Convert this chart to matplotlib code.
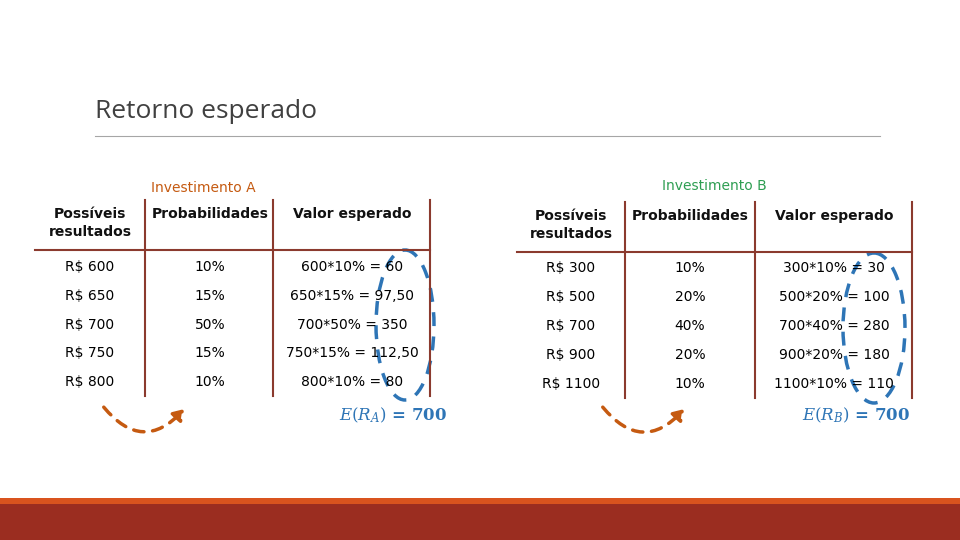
import matplotlib.pyplot as plt
from matplotlib.patches import Ellipse, FancyArrowPatch, Rectangle

outcomes_a = [600, 650, 700, 750, 800]
probs_a = [10, 15, 50, 15, 10]
outcomes_b = [300, 500, 700, 900, 1100]
probs_b = [10, 20, 40, 20, 10]
headers = ["Possíveis\nresultados", "Probabilidades", "Valor esperado"]

LINE = "#8b3a2e"
BLUE = "#2e75b6"
ORANGE = "#c55a11"

plt.rcParams["mathtext.fontset"] = "dejavuserif"


def fmt(v):
    s = f"{v:.2f}".replace(".", ",")
    return s[:-3] if s.endswith(",00") else s


fig = plt.figure(figsize=(9.6, 5.4), dpi=100)
ax = fig.add_axes([0, 0, 1, 1])
ax.set_xlim(0, 960)
ax.set_ylim(540, 0)
ax.axis("off")

ax.text(95, 112, "Retorno esperado", fontsize=19, color="#404040",
        family="Open Sans", va="center")
ax.plot([95, 880], [136, 136], color="#a6a6a6", lw=0.8)

ax.add_patch(Rectangle((0, 498), 960, 6, color="#d9531e", lw=0))
ax.add_patch(Rectangle((0, 504), 960, 36, color="#9b2d20", lw=0))


def table(x0, xs, cols, y_head, y_line, y_rows, title, tcolor, tx, ty,
          outcomes, probs, ell, arrow, label, lx):
    ax.text(tx, ty, title, color=tcolor, fontsize=10, ha="center", va="center")
    ax.plot([x0, xs[-1]], [y_line, y_line], color=LINE, lw=1.5)
    for x in xs:
        ax.plot([x, x], [y_line - 50, y_rows[-1] + 14], color=LINE, lw=1.5)
    for cx, h in zip(cols, headers):
        ax.text(cx, y_head, h, fontsize=10, weight="bold", ha="center",
                va="top", color="#111111", linespacing=1.4)
    for y, o, p in zip(y_rows, outcomes, probs):
        ax.text(cols[0], y, f"R$ {o}", fontsize=10, ha="center", va="center")
        ax.text(cols[1], y, f"{p}%", fontsize=10, ha="center", va="center")
        ax.text(cols[2], y, f"{o}*{p}% = {fmt(o * p / 100)}", fontsize=10,
                ha="center", va="center")
    ax.add_patch(Ellipse(ell[:2], ell[2], ell[3], fill=False, ec=BLUE,
                         lw=2.5, ls=(0, (4, 3))))
    ax.add_patch(FancyArrowPatch(arrow[0], arrow[1], connectionstyle="arc3,rad=0.6",
                                 arrowstyle="-|>,head_length=6,head_width=4",
                                 color=ORANGE, lw=2.5, ls=(0, (3, 2.5))))
    total = sum(o * p / 100 for o, p in zip(outcomes, probs))
    ax.text(lx, 415, f"$E(R_{label})$ = {total:.0f}", color=BLUE,
            fontsize=12, weight="bold", ha="right", va="center", family="DejaVu Serif")


table(35, [145, 273, 430], [90, 210, 352], 207, 250, [267, 296, 325, 353, 382],
      "Investimento A", "#c55a11", 203, 188, outcomes_a, probs_a,
      (405, 325, 58, 150), ((102, 405), (186, 407)), "A", 447)
table(517, [625, 755, 912], [571, 690, 834], 209, 252, [268, 297, 326, 355, 384],
      "Investimento B", "#2e9e52", 714, 186, outcomes_b, probs_b,
      (874, 328, 62, 150), ((601, 405), (686, 407)), "B", 910)

fig.savefig("out.png", dpi=100)
